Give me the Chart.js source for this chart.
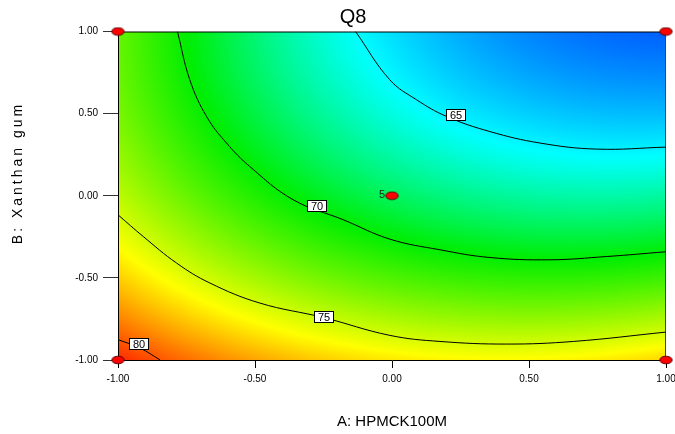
<!DOCTYPE html>
<html>
<head>
<meta charset="utf-8">
<script src="https://cdn.jsdelivr.net/npm/chart.js@4.4.0/dist/chart.umd.min.js"></script>
<style>
  html, body { margin: 0; padding: 0; background: #fff; }
  #wrap { width: 675px; height: 434px; }
</style>
</head>
<body>
<div id="wrap"><canvas id="c"></canvas></div>
<script>
// tick positions (coded levels)
const tickValues = [-1, -0.5, 0, 0.5, 1];

// Q8 read at the grid nodes, rows B = -1 .. 1, columns A = -1 .. 1
const gridA = [-1, -0.5, 0, 0.5, 1];
const gridB = [-1, -0.5, 0, 0.5, 1];
const q8Grid = [
  [80.98, 78.13, 76.52, 76.13, 76.98],
  [77.15, 73.88, 71.84, 71.03, 71.45],
  [74.45, 70.75, 68.29, 67.05, 67.05],
  [72.87, 68.75, 65.86, 64.20, 63.77],
  [72.42, 67.87, 64.56, 62.47, 61.62]
];

// contour lines
const c65A = [-0.133, -0.008, 0.090, 0.199, 0.357, 0.540, 0.747, 1.0];
const c65B = [1.0, 0.706, 0.584, 0.483, 0.391, 0.321, 0.284, 0.296];
const c70A = [-0.783, -0.738, -0.677, -0.604, -0.519, -0.361, -0.178, -0.008, 0.175, 0.357, 0.576, 0.783, 1.0];
const c70B = [1.0, 0.706, 0.483, 0.321, 0.178, -0.024, -0.146, -0.264, -0.329, -0.376, -0.390, -0.370, -0.341];
const c75A = [-1.0, -0.908, -0.786, -0.665, -0.483, -0.251, -0.008, 0.175, 0.418, 0.662, 1.0];
const c75B = [-0.116, -0.248, -0.410, -0.531, -0.653, -0.741, -0.850, -0.887, -0.903, -0.887, -0.830];
const c80A = [-1.0, -0.920, -0.847];
const c80B = [-0.876, -0.927, -0.999];

// contour labels
const contourLevels = ['65', '70', '75', '80'];
const labelA = [0.233, -0.274, -0.250, -0.924];
const labelB = [0.491, -0.060, -0.740, -0.902];

// design points
const designA = [-1, -1, 1, 1, 0];
const designB = [-1, 1, 1, -1, 0];
const designRuns = [1, 1, 1, 1, 5];

// colour scale
const colorStops = [61.6, 65.3, 70, 76.0, 80.8];
const colorList = [[0, 96, 255], [0, 255, 255], [0, 238, 0], [255, 255, 0], [255, 48, 0]];

Chart.defaults.font.family = 'Arial, "Liberation Sans", sans-serif';

function pts(a, b) { return a.map((v, i) => ({ x: v, y: b[i] })); }

// ghost nodes so the spline keeps the curvature at the edges
function extend(arr) {
  const n = arr.length;
  return [3 * arr[0] - 3 * arr[1] + arr[2]].concat(arr, [3 * arr[n - 1] - 3 * arr[n - 2] + arr[n - 3]]);
}
function cr(p0, p1, p2, p3, t) {
  return 0.5 * (2 * p1 + (p2 - p0) * t + (2 * p0 - 5 * p1 + 4 * p2 - p3) * t * t + (3 * p1 - p0 - 3 * p2 + p3) * t * t * t);
}
function interp1(ext, u) {
  let i = Math.floor(u);
  if (i > ext.length - 4) i = ext.length - 4;
  if (i < 0) i = 0;
  return cr(ext[i], ext[i + 1], ext[i + 2], ext[i + 3], u - i);
}
function colorFor(v) {
  if (v <= colorStops[0]) return colorList[0];
  for (let k = 1; k < colorStops.length; k++) {
    if (v <= colorStops[k]) {
      const t = (v - colorStops[k - 1]) / (colorStops[k] - colorStops[k - 1]);
      const c0 = colorList[k - 1], c1 = colorList[k];
      return [c0[0] + (c1[0] - c0[0]) * t, c0[1] + (c1[1] - c0[1]) * t, c0[2] + (c1[2] - c0[2]) * t];
    }
  }
  return colorList[colorList.length - 1];
}

// red ellipse for the design points
const dot = document.createElement('canvas');
dot.width = 15; dot.height = 10;
const dctx = dot.getContext('2d');
dctx.beginPath();
dctx.ellipse(7.5, 5, 6.2, 3.8, 0, 0, Math.PI * 2);
dctx.fillStyle = '#ff0000';
dctx.fill();
dctx.strokeStyle = '#5a0000';
dctx.lineWidth = 1;
dctx.stroke();

const surfacePlugin = {
  id: 'surface',
  beforeDraw(chart) {
    const { ctx, chartArea: a, scales: { x, y } } = chart;
    const w = Math.round(a.right - a.left), h = Math.round(a.bottom - a.top);
    const off = document.createElement('canvas');
    off.width = w; off.height = h;
    const octx = off.getContext('2d');
    const img = octx.createImageData(w, h);
    const rows = q8Grid.map(extend);
    for (let i = 0; i < w; i++) {
      const A = x.getValueForPixel(a.left + i + 0.5);
      const uA = (A - gridA[0]) / (gridA[1] - gridA[0]);
      const col = extend(rows.map(r => interp1(r, uA)));
      for (let j = 0; j < h; j++) {
        const B = y.getValueForPixel(a.top + j + 0.5);
        const uB = (B - gridB[0]) / (gridB[1] - gridB[0]);
        const c = colorFor(interp1(col, uB));
        const p = (j * w + i) * 4;
        img.data[p] = c[0]; img.data[p + 1] = c[1]; img.data[p + 2] = c[2]; img.data[p + 3] = 255;
      }
    }
    octx.putImageData(img, 0, 0);
    ctx.drawImage(off, a.left, a.top);
  },
  beforeDatasetsDraw(chart) {
    const { ctx, chartArea: a } = chart;
    ctx.save();
    ctx.lineWidth = 1;
    ctx.strokeStyle = '#000';
    ctx.beginPath();
    ctx.moveTo(a.left, a.top + 0.5);
    ctx.lineTo(a.right, a.top + 0.5);
    ctx.stroke();
    ctx.strokeStyle = '#4d4a00';
    ctx.beginPath();
    ctx.moveTo(a.right - 0.5, a.top);
    ctx.lineTo(a.right - 0.5, a.bottom);
    ctx.stroke();
    ctx.restore();
  },
  afterDatasetsDraw(chart) {
    const { ctx, scales: { x, y } } = chart;
    ctx.save();
    ctx.font = '11px Arial, "Liberation Sans", sans-serif';
    ctx.textAlign = 'center';
    ctx.textBaseline = 'middle';
    contourLevels.forEach((t, i) => {
      const px = Math.round(x.getPixelForValue(labelA[i]));
      const py = Math.round(y.getPixelForValue(labelB[i]));
      const tw = Math.round(ctx.measureText(t).width) + 8;
      ctx.fillStyle = '#fff';
      ctx.fillRect(px - tw / 2, py - 6, tw, 12);
      ctx.strokeStyle = '#000';
      ctx.lineWidth = 1;
      ctx.strokeRect(px - tw / 2 + 0.5, py - 5.5, tw - 1, 11);
      ctx.fillStyle = '#000';
      ctx.fillText(t, px, py + 0.5);
    });
    ctx.fillStyle = '#222';
    ctx.textAlign = 'right';
    designRuns.forEach((n, i) => {
      if (n > 1) ctx.fillText(String(n), x.getPixelForValue(designA[i]) - 7, y.getPixelForValue(designB[i]) - 1);
    });
    ctx.restore();
  },
  afterDraw(chart) {
    const { ctx } = chart;
    ctx.save();
    // y axis title with the wide letter spacing of the original
    ctx.fillStyle = '#000';
    ctx.font = '14px Arial, "Liberation Sans", sans-serif';
    ctx.letterSpacing = '3px';
    ctx.textAlign = 'center';
    ctx.textBaseline = 'middle';
    ctx.translate(18, 173);
    ctx.rotate(-Math.PI / 2);
    ctx.fillText('B: Xanthan gum', 0, 0);
    ctx.restore();
  }
};

const lineStyle = {
  showLine: true,
  borderColor: '#000',
  borderWidth: 1,
  pointRadius: 0,
  tension: 0.4,
  fill: false,
  order: 2
};

new Chart(document.getElementById('c'), {
  type: 'scatter',
  data: {
    datasets: [
      Object.assign({ label: '65', data: pts(c65A, c65B) }, lineStyle),
      Object.assign({ label: '70', data: pts(c70A, c70B) }, lineStyle),
      Object.assign({ label: '75', data: pts(c75A, c75B) }, lineStyle),
      Object.assign({ label: '80', data: pts(c80A, c80B) }, lineStyle),
      {
        label: 'Design points',
        data: pts(designA, designB),
        pointStyle: dot,
        pointRadius: 6,
        clip: false,
        order: 1
      }
    ]
  },
  options: {
    responsive: true,
    maintainAspectRatio: false,
    animation: false,
    events: [],
    layout: { padding: { left: 40, right: 9, top: 0, bottom: 0 } },
    plugins: {
      legend: { display: false },
      tooltip: { enabled: false },
      title: {
        display: true,
        text: 'Q8',
        color: '#000',
        font: { size: 20, weight: 'normal' },
        padding: { top: 5.5, bottom: 2 }
      }
    },
    scales: {
      x: {
        type: 'linear',
        min: -1,
        max: 1,
        afterBuildTicks: s => { s.ticks = tickValues.map(v => ({ value: v })); },
        afterFit: s => { s.height = 74; s.paddingLeft = 0; s.paddingRight = 0; },
        grid: { drawOnChartArea: false, drawTicks: true, tickLength: 8, tickColor: '#000' },
        border: { color: '#000', width: 1 },
        ticks: { color: '#000', font: { size: 10 }, padding: 5, maxRotation: 0, autoSkip: false,
          callback: v => Number(v).toFixed(2) },
        title: { display: true, text: 'A: HPMCK100M', color: '#000', font: { size: 15 }, padding: { top: 0, bottom: 3 } }
      },
      y: {
        type: 'linear',
        min: -1,
        max: 1,
        afterBuildTicks: s => { s.ticks = tickValues.map(v => ({ value: v })); },
        afterFit: s => { s.width = 78; s.paddingTop = 0; s.paddingBottom = 0; },
        grid: { drawOnChartArea: false, drawTicks: true, tickLength: 15, tickColor: '#333' },
        border: { color: '#000', width: 1 },
        ticks: { color: '#000', font: { size: 10 }, padding: 5, autoSkip: false,
          callback: v => Number(v).toFixed(2) }
      }
    }
  },
  plugins: [surfacePlugin]
});
</script>
</body>
</html>
